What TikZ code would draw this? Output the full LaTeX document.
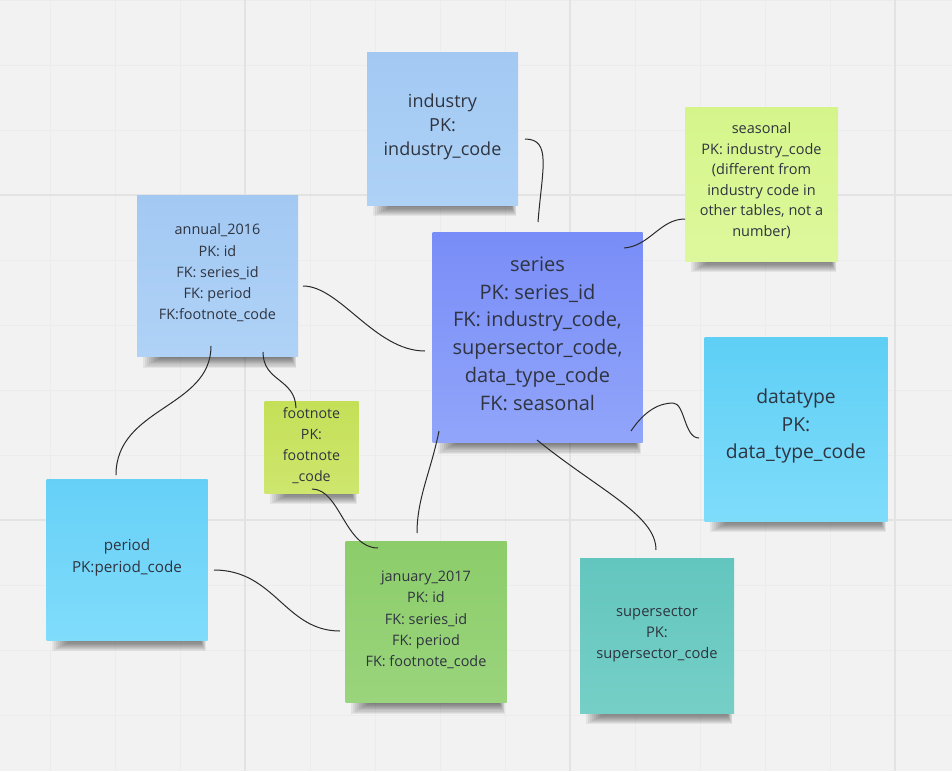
\documentclass[tikz,border=0pt]{standalone}
\usepackage{fontspec}
\setmainfont{Open Sans}
\usetikzlibrary{calc}
\pgfdeclarelayer{bg}
\pgfsetlayers{bg,main}
\definecolor{bgc}{HTML}{F2F2F2}
\definecolor{gridminor}{HTML}{ECECEC}
\definecolor{gridmajor}{HTML}{E3E3E3}
\definecolor{txt}{HTML}{2F3440}
\definecolor{wire}{HTML}{2A2A2A}
\definecolor{indT}{HTML}{A3C9F3}\definecolor{indB}{HTML}{AED2F6}
\definecolor{seaT}{HTML}{D5F58B}\definecolor{seaB}{HTML}{DDF89C}
\definecolor{annT}{HTML}{A3C9F3}\definecolor{annB}{HTML}{AFD2F6}
\definecolor{fooT}{HTML}{C4E057}\definecolor{fooB}{HTML}{CEE66E}
\definecolor{serT}{HTML}{798DF8}\definecolor{serB}{HTML}{91A5FA}
\definecolor{datT}{HTML}{5ECFF5}\definecolor{datB}{HTML}{7FDCFB}
\definecolor{perT}{HTML}{66D0F7}\definecolor{perB}{HTML}{80DCFB}
\definecolor{janT}{HTML}{8CCD6A}\definecolor{janB}{HTML}{9AD47C}
\definecolor{supT}{HTML}{63C6BE}\definecolor{supB}{HTML}{75CFC7}
\tikzset{
  note/.style={rectangle, inner sep=0pt},
  lbl/.style={align=center, text=txt, inner sep=0pt},
  link/.style={draw=wire, line width=1pt},
}
\newcommand{\noteshadow}[1]{%
  \foreach \k in {1,...,10}{%
    \fill[black,opacity=0.06] ($(#1.south west)+(26-2*\k,-30)$) rectangle ($(#1.south east)+(-8+0.6*\k,1.1*\k)$);
  }}
\begin{document}
\begin{tikzpicture}[x=1pt,y=-1pt]
\useasboundingbox (0,0) rectangle (952,771);
\begin{pgfonlayer}{bg}
  \fill[bgc] (0,0) rectangle (952,771);
  \foreach \gx in {50,115,...,950} \draw[gridminor,line width=1pt] (\gx,0) -- (\gx,771);
  \foreach \gy in {0,65,...,770} \draw[gridminor,line width=1pt] (0,\gy) -- (952,\gy);
  \foreach \gx in {245,570,895} \draw[gridmajor,line width=1.5pt] (\gx,0) -- (\gx,771);
  \foreach \gy in {195,520} \draw[gridmajor,line width=1.5pt] (0,\gy) -- (952,\gy);
\end{pgfonlayer}

\node[note, minimum width=151pt, minimum height=153pt, top color=indT, bottom color=indB,
  label={[lbl, yshift=2pt, font=\fontsize{18}{24}\selectfont]center:{industry\\PK:\\industry\_code}}] (industry) at (442.5,128.5) {};
\node[note, minimum width=153pt, minimum height=154pt, top color=seaT, bottom color=seaB,
  label={[lbl, yshift=3.5pt, font=\fontsize{14.5}{20.5}\selectfont]center:{seasonal\\PK: industry\_code\\(different from\\industry code in\\other tables, not a\\number)}}] (seasonal) at (761.5,184) {};
\node[note, minimum width=161pt, minimum height=161pt, top color=annT, bottom color=annB,
  label={[lbl, yshift=3pt, font=\fontsize{14.4}{21.2}\selectfont]center:{annual\_2016\\PK: id\\FK: series\_id\\FK: period\\FK:footnote\_code}}] (annual) at (217.5,276) {};
\node[note, minimum width=94pt, minimum height=92pt, top color=fooT, bottom color=fooB,
  label={[lbl, yshift=1.5pt, font=\fontsize{14.2}{21}\selectfont]center:{footnote\\PK:\\footnote\\\_code}}] (footnote) at (311.5,447) {};
\node[note, minimum width=210pt, minimum height=210pt, top color=serT, bottom color=serB,
  label={[lbl, yshift=4pt, font=\fontsize{20}{27.8}\selectfont]center:{series\\PK: series\_id\\FK: industry\_code,\\supersector\_code,\\data\_type\_code\\FK: seasonal}}] (series) at (537.5,337.5) {};
\node[note, minimum width=183pt, minimum height=184pt, top color=datT, bottom color=datB,
  label={[lbl, yshift=3pt, font=\fontsize{19.3}{27.5}\selectfont]center:{datatype\\PK:\\data\_type\_code}}] (datatype) at (796,429) {};
\node[note, minimum width=161pt, minimum height=161pt, top color=perT, bottom color=perB,
  label={[lbl, yshift=2pt, font=\fontsize{15.2}{22}\selectfont]center:{period\\PK:period\_code}}] (period) at (127,559.5) {};
\node[note, minimum width=161pt, minimum height=161pt, top color=janT, bottom color=janB,
  label={[lbl, yshift=2pt, font=\fontsize{14.4}{21.2}\selectfont]center:{january\_2017\\PK: id\\FK: series\_id\\FK: period\\FK: footnote\_code}}] (january) at (426,622) {};
\node[note, minimum width=154pt, minimum height=155pt, top color=supT, bottom color=supB,
  label={[lbl, yshift=1pt, font=\fontsize{14.7}{21}\selectfont]center:{supersector\\PK:\\supersector\_code}}] (supersector) at (657,635.5) {};

\begin{pgfonlayer}{bg}
  \foreach \n in {industry,seasonal,annual,footnote,series,datatype,period,january,supersector}{\noteshadow{\n}}
\end{pgfonlayer}

% connectors
\draw[link] ($(industry.center)+(82.5,10.5)$) .. controls +(27,0) and +(4,-52) .. ($(series.center)+(0.5,-115.5)$);
\draw[link] ($(series.center)+(86.5,-89.5)$) .. controls +(26,-2) and +(-25,0) .. ($(seasonal.center)+(-76.5,35)$);
\draw[link] ($(annual.center)+(85.5,10)$) .. controls +(37,0) and +(-50,0) .. ($(series.center)+(-112.5,13.5)$);
\draw[link] ($(annual.center)+(45.5,76)$) .. controls +(0,30) and +(-1,-30) .. ($(footnote.center)+(-15.5,-39)$);
\draw[link] ($(annual.center)+(-6.5,70)$) .. controls +(0,62) and +(0,-68) .. ($(period.center)+(-11,-84.5)$);
\draw[link] ($(footnote.center)+(0.5,42)$) .. controls +(28,0) and +(-33,0) .. ($(january.center)+(-48,-74)$);
\draw[link] ($(series.center)+(-98.5,93.5)$) .. controls +(-8,40) and +(0,-35) .. ($(january.center)+(-9,-89)$);
\coordinate (dtpeak) at ($(series.center)+(135.5,65.5)$);
\draw[link] ($(series.center)+(93.5,93.5)$) .. controls +(14,-21) and +(-13,0) .. (dtpeak)
  .. controls +(12,0) and +(-15,0) .. ($(datatype.center)+(-97,9)$);
\draw[link] ($(series.center)+(-0.5,102.5)$) .. controls +(63,51) and +(0,-35) .. ($(supersector.center)+(-1,-85.5)$);
\draw[link] ($(period.center)+(87,10.5)$) .. controls +(61,0) and +(-55,0) .. ($(january.center)+(-86,9)$);
\end{tikzpicture}
\end{document}
